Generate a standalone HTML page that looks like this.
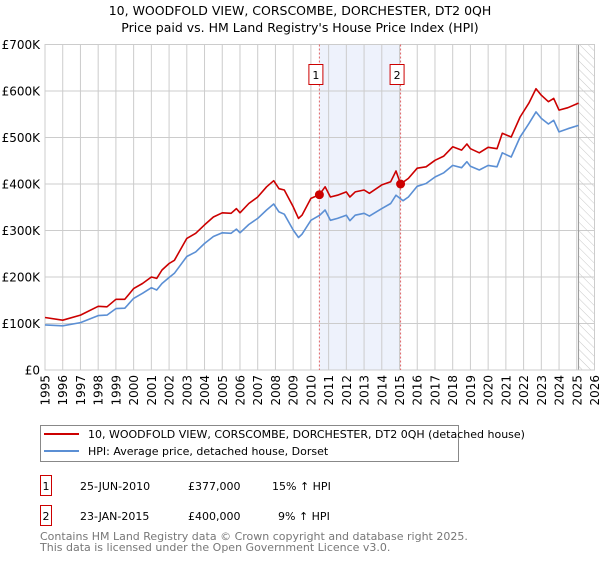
<!DOCTYPE html>
<html><head><meta charset="utf-8"><style>
body{margin:0;background:#fff;font-family:"Liberation Sans","DejaVu Sans",sans-serif;}
svg text{font-family:"DejaVu Sans","Liberation Sans",sans-serif;}
</style></head><body>
<svg id="c" width="600" height="560" viewBox="0 0 600 560">
<defs><pattern id="hatch" width="6" height="6" patternUnits="userSpaceOnUse" patternTransform="rotate(-45)"><line x1="0" y1="0" x2="0" y2="6" stroke="#c8c8c8" stroke-width="1"/></pattern></defs>
<text x="300" y="15" text-anchor="middle" font-size="12.5" fill="#000">10, WOODFOLD VIEW, CORSCOMBE, DORCHESTER, DT2 0QH</text>
<text x="300" y="32" text-anchor="middle" font-size="12.5" fill="#000">Price paid vs. HM Land Registry's House Price Index (HPI)</text>
<g id="plot"></g>
<g>
<rect x="40.5" y="425.5" width="418" height="36" fill="#fff" stroke="#888"/>
<line x1="44" y1="434" x2="79" y2="434" stroke="#cc0000" stroke-width="2"/>
<text x="88" y="438" font-size="11">10, WOODFOLD VIEW, CORSCOMBE, DORCHESTER, DT2 0QH (detached house)</text>
<line x1="44" y1="451" x2="79" y2="451" stroke="#5b8fd4" stroke-width="2"/>
<text x="88" y="455" font-size="11">HPI: Average price, detached house, Dorset</text>
</g>
<g>
<rect x="40.5" y="475.5" width="11" height="20" fill="#fff" stroke="#cc0000"/>
<text x="46" y="490" text-anchor="middle" font-size="11">1</text>
<text x="80" y="490" font-size="11">25-JUN-2010</text>
<text x="188" y="490" font-size="11">£377,000</text>
<text x="272" y="490" font-size="11">15% ↑ HPI</text>
<rect x="40.5" y="505.5" width="11" height="20" fill="#fff" stroke="#cc0000"/>
<text x="46" y="520" text-anchor="middle" font-size="11">2</text>
<text x="80" y="520" font-size="11">23-JAN-2015</text>
<text x="188" y="520" font-size="11">£400,000</text>
<text x="278" y="520" font-size="11">9% ↑ HPI</text>
</g>
<text x="40" y="540" font-size="11" fill="#777">Contains HM Land Registry data © Crown copyright and database right 2025.</text>
<text x="40" y="551" font-size="11" fill="#777">This data is licensed under the Open Government Licence v3.0.</text>
</svg>
<script>
const yearTicks=[1995,1996,1997,1998,1999,2000,2001,2002,2003,2004,2005,2006,2007,2008,2009,2010,2011,2012,2013,2014,2015,2016,2017,2018,2019,2020,2021,2022,2023,2024,2025,2026];
const valueTicks=[0,100,200,300,400,500,600,700];
const valueLabels=["£0","£100K","£200K","£300K","£400K","£500K","£600K","£700K"];
const hpiYears=[1995,1996,1997,1998,1998.5,1999,1999.5,2000,2000.5,2001,2001.3,2001.6,2002,2002.3,2003,2003.5,2004,2004.5,2005,2005.5,2005.8,2006,2006.5,2007,2007.5,2007.9,2008.2,2008.5,2009,2009.3,2009.5,2010,2010.5,2010.8,2011.1,2011.5,2012,2012.2,2012.5,2013,2013.3,2014,2014.5,2014.8,2015.2,2015.5,2016,2016.5,2017,2017.5,2018,2018.5,2018.8,2019,2019.5,2020,2020.5,2020.8,2021.3,2021.8,2022.3,2022.7,2023,2023.4,2023.7,2024,2024.5,2025.1];
const hpiValues=[97,95,102,117,118,132,133,154,165,177,172,186,199,208,244,254,272,287,295,294,303,295,313,326,344,357,340,335,301,285,292,322,333,344,322,326,333,321,333,337,331,347,358,376,364,372,395,401,415,424,440,435,448,438,430,440,437,467,458,501,530,555,541,529,537,512,519,526];
const priceYears=[1995,1996,1997,1998,1998.5,1999,1999.5,2000,2000.5,2001,2001.3,2001.6,2002,2002.3,2003,2003.5,2004,2004.5,2005,2005.5,2005.8,2006,2006.5,2007,2007.5,2007.9,2008.2,2008.5,2009,2009.3,2009.5,2010,2010.48,2010.8,2011.1,2011.5,2012,2012.2,2012.5,2013,2013.3,2014,2014.5,2014.8,2015.06,2015.5,2016,2016.5,2017,2017.5,2018,2018.5,2018.8,2019,2019.5,2020,2020.5,2020.8,2021.3,2021.8,2022.3,2022.7,2023,2023.4,2023.7,2024,2024.5,2025.1];
const priceValues=[113,107,118,137,136,152,152,175,186,200,197,215,229,236,283,294,312,329,338,337,347,338,358,372,394,407,390,387,351,326,333,369,377,394,372,376,383,372,383,387,380,398,405,428,400,412,434,437,451,460,480,473,486,476,467,479,476,509,501,544,574,605,591,577,584,559,564,574];
const saleYears=[2010.48,2015.06];
const saleValues=[377,400];
const saleLabels=["1","2"];
const L=45,R=594.5,T=44.5,B=370,y0=1995,y1=2026,vmax=700,forecast=2025.1;
const X=y=>L+(y-y0)/(y1-y0)*(R-L);
const Y=v=>B-v/vmax*(B-T);
const NS="http://www.w3.org/2000/svg";
const g=document.getElementById('plot');
function mk(t,a,p){const e=document.createElementNS(NS,t);for(const k in a)e.setAttribute(k,a[k]);(p||g).appendChild(e);return e;}
// shade
let sh=mk('rect',{x:X(saleYears[0]),y:T,width:X(saleYears[1])-X(saleYears[0]),height:B-T,fill:'#eef2fc'});


// grid
valueTicks.forEach((v,i)=>{
 const l=mk('line',{x1:L,x2:R,y1:Y(v),y2:Y(v),stroke:'#cccccc'});
 
 
 const t=mk('text',{x:L-5,y:Y(v)+4.5,'text-anchor':'end','font-size':'12'});
 t.textContent=valueLabels[i];
 
 
});
yearTicks.forEach(yr=>{
 const l=mk('line',{x1:X(yr),x2:X(yr),y1:T,y2:B,stroke:'#cccccc'});
 
 
 const t=mk('text',{x:0,y:0,'text-anchor':'end','font-size':'12',transform:`translate(${X(yr)+4.5},${B+5}) rotate(-90)`});
 t.textContent=yr;
 
 
});
// forecast hatch
const hz=mk('rect',{x:X(forecast),y:T,width:R-X(forecast),height:B-T,fill:'url(#hatch)'});


const fl=mk('line',{x1:X(forecast),x2:X(forecast),y1:T,y2:B,stroke:'#999'});


mk('rect',{x:L,y:T,width:R-L,height:B-T,fill:'none',stroke:'#cccccc'});
// sale vlines
saleYears.forEach((yr,i)=>{
 const l=mk('line',{x1:X(yr),x2:X(yr),y1:T,y2:B,stroke:'#e06666','stroke-dasharray':'2,2'});
 
 
 const r=mk('rect',{x:X(yr)-10.5,y:64.5,width:14,height:20,fill:'#fff',stroke:'#cc0000'});
 
 
 const t=mk('text',{x:X(yr)-3.5,y:79,'text-anchor':'middle','font-size':'11'});
 t.textContent=saleLabels[i];
 
 
});
function line(xs,vs,c,n){
 const p=mk('polyline',{points:xs.map((x,i)=>X(x).toFixed(1)+','+Y(vs[i]).toFixed(1)).join(' '),fill:'none',stroke:c,'stroke-width':'1.6','stroke-linejoin':'round'});
 
 
}
line(hpiYears,hpiValues,'#5b8fd4','hpi-line');
line(priceYears,priceValues,'#cc0000','price-line');
saleYears.forEach((yr,i)=>{
 const c=mk('circle',{cx:X(yr),cy:Y(saleValues[i]),r:4.5,fill:'#cc0000'});
 
 
});
</script>
</body></html>
